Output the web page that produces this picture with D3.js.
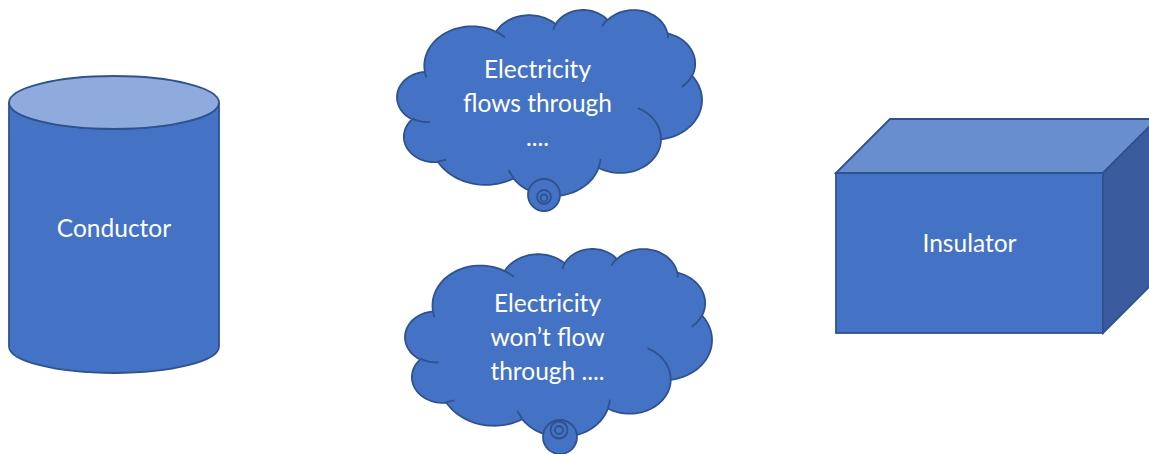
<!DOCTYPE html>
<html>
<head>
<meta charset="utf-8">
<script src="https://cdn.jsdelivr.net/npm/d3@7"></script>
<style>
  body { margin: 0; background: #fff; }
  svg { display: block; }
</style>
</head>
<body>
<script>
// labels
var shapeLabels = ["Conductor", "Insulator"];
var cloudLines = [
  ["Electricity", "flows through", "...."],
  ["Electricity", "won\u2019t flow", "through ...."]
];

var width = 1149, height = 454;
var blue = "#4472C4", edge = "#2F528F";
var font = "Lato, 'Open Sans', sans-serif";

// office preset cloud outline, 43200 x 43200 path space
var cloudStart = [3900, 14370];
var cloudArcs = [
  [6753, 9190, -11429249, 7426832],
  [5333, 7267, -8646143, 5396714],
  [4365, 5945, -8748475, 5983381],
  [4857, 6595, -7859164, 7034504],
  [5333, 7273, -4722533, 6541615],
  [6775, 9220, -2776035, 7816140],
  [5785, 7867, 37501, 6842000],
  [6752, 9215, 1347096, 6910353],
  [7720, 10543, 3974558, 4542661],
  [4360, 5918, -16496525, 8804134],
  [4345, 5945, -14809710, 9151131]
];
// the little inner crease arcs
var creases = [
  [4693, 26177, 4345, 5945, 5204520, 1585770],
  [6928, 34899, 4360, 5918, 4416628, 686848],
  [16478, 39090, 6752, 9215, 8257449, 844866],
  [28827, 34751, 6752, 9215, 387196, 959901],
  [34129, 22954, 5785, 7867, -4217541, 4255042],
  [41798, 15354, 5333, 7273, 1819082, 1665090],
  [38324, 5426, 4857, 6595, -824660, 891534],
  [29078, 3952, 4857, 6595, -8950887, 1091722],
  [22141, 4720, 4365, 5945, -9809656, 1061181],
  [14000, 5192, 6753, 9190, -4002417, 739161],
  [4127, 15789, 6753, 9190, 9459261, 711490]
];

function arcPoints(p, wR, hR, st, sw) {
  var a1 = st / 60000 * Math.PI / 180, a2 = (st + sw) / 60000 * Math.PI / 180;
  var par = function(a) { return Math.atan2(Math.sin(a) / hR, Math.cos(a) / wR); };
  var t1 = par(a1), t2 = par(a2);
  if (sw > 0) { while (t2 < t1) t2 += 2 * Math.PI; }
  else { while (t2 > t1) t2 -= 2 * Math.PI; }
  var cx = p[0] - wR * Math.cos(t1), cy = p[1] - hR * Math.sin(t1);
  return d3.range(1, 31).map(function(i) {
    var t = t1 + (t2 - t1) * i / 30;
    return [cx + wR * Math.cos(t), cy + hR * Math.sin(t)];
  });
}

var outline = [cloudStart];
cloudArcs.forEach(function(a) {
  outline = outline.concat(arcPoints(outline[outline.length - 1], a[0], a[1], a[2], a[3]));
});
var creaseLines = creases.map(function(c) {
  return [[c[0], c[1]]].concat(arcPoints([c[0], c[1]], c[2], c[3], c[4], c[5]));
});

var svg = d3.select("body").append("svg")
  .attr("width", width)
  .attr("height", height);

// ---- cylinder
var cyl = { x0: 9, x1: 219, top: 102.5, bot: 346.5, ry: 26.5 };
var cx = (cyl.x0 + cyl.x1) / 2, rx = (cyl.x1 - cyl.x0) / 2;
var g1 = svg.append("g");
g1.append("path")
  .attr("d", "M" + cyl.x0 + "," + cyl.top + " L" + cyl.x0 + "," + cyl.bot +
    " A" + rx + "," + cyl.ry + " 0 0 0 " + cyl.x1 + "," + cyl.bot +
    " L" + cyl.x1 + "," + cyl.top +
    " A" + rx + "," + cyl.ry + " 0 0 1 " + cyl.x0 + "," + cyl.top + " Z")
  .attr("fill", blue)
  .attr("stroke", edge)
  .attr("stroke-width", 1.8);
g1.append("ellipse")
  .attr("cx", cx).attr("cy", cyl.top)
  .attr("rx", rx).attr("ry", cyl.ry)
  .attr("fill", "#8FAADC")
  .attr("stroke", edge)
  .attr("stroke-width", 1.8);
g1.append("text")
  .attr("x", cx).attr("y", 237)
  .attr("text-anchor", "middle")
  .attr("font-family", font).attr("font-size", 24.5)
  .attr("fill", "#fff")
  .text(shapeLabels[0]);

// ---- clouds
var ext = {
  x: d3.extent(outline, function(d) { return d[0]; }),
  y: d3.extent(outline, function(d) { return d[1]; })
};
var clouds = [
  { box: [397, 10, 702, 196], tx: 537.5, ty: 78, bubble: [[544, 195, 16], [544, 197, 7], [544, 198, 3.5]] },
  { box: [405, 249, 712, 437], tx: 547.5, ty: 312, bubble: [[560, 437, 17], [559, 430, 8.5], [559, 430, 4]] }
];

clouds.forEach(function(c, i) {
  var xs = d3.scaleLinear().domain(ext.x).range([c.box[0], c.box[2]]);
  var ys = d3.scaleLinear().domain(ext.y).range([c.box[1], c.box[3]]);
  var line = d3.line().x(function(d) { return xs(d[0]); }).y(function(d) { return ys(d[1]); });
  var g = svg.append("g");
  g.append("path")
    .attr("d", line(outline) + "Z")
    .attr("fill", blue)
    .attr("stroke", edge)
    .attr("stroke-width", 1.8);
  creaseLines.forEach(function(cl) {
    g.append("path")
      .attr("d", line(cl))
      .attr("fill", "none")
      .attr("stroke", edge)
      .attr("stroke-width", 1.8);
  });
  // thought bubbles sit on top of the cloud edge
  c.bubble.forEach(function(b) {
    g.append("circle")
      .attr("cx", b[0]).attr("cy", b[1]).attr("r", b[2])
      .attr("fill", blue).attr("stroke", edge).attr("stroke-width", 1.8);
  });
  g.selectAll("text.l")
    .data(cloudLines[i])
    .join("text")
    .attr("x", c.tx)
    .attr("y", function(d, j) { return c.ty + j * 34; })
    .attr("text-anchor", "middle")
    .attr("font-family", font).attr("font-size", 24.5)
    .attr("fill", "#fff")
    .text(function(d) { return d; });
});

// ---- cube
var cube = { x0: 836, y0: 173, x1: 1103, y1: 333, d: 54 };
var g3 = svg.append("g")
  .attr("stroke", edge)
  .attr("stroke-width", 1.8)
  .attr("stroke-linejoin", "miter");
g3.append("rect")
  .attr("x", cube.x0).attr("y", cube.y0)
  .attr("width", cube.x1 - cube.x0).attr("height", cube.y1 - cube.y0)
  .attr("fill", blue);
g3.append("path")
  .attr("d", "M" + cube.x0 + "," + cube.y0 + " L" + (cube.x0 + cube.d) + "," + (cube.y0 - cube.d) +
    " L" + (cube.x1 + cube.d) + "," + (cube.y0 - cube.d) + " L" + cube.x1 + "," + cube.y0 + " Z")
  .attr("fill", "#698ED0");
g3.append("path")
  .attr("d", "M" + cube.x1 + "," + cube.y0 + " L" + (cube.x1 + cube.d) + "," + (cube.y0 - cube.d) +
    " L" + (cube.x1 + cube.d) + "," + (cube.y1 - cube.d) + " L" + cube.x1 + "," + cube.y1 + " Z")
  .attr("fill", "#3A5C9E");
svg.append("text")
  .attr("x", (cube.x0 + cube.x1) / 2).attr("y", 252)
  .attr("text-anchor", "middle")
  .attr("font-family", font).attr("font-size", 24.5)
  .attr("fill", "#fff")
  .text(shapeLabels[1]);
</script>
</body>
</html>
